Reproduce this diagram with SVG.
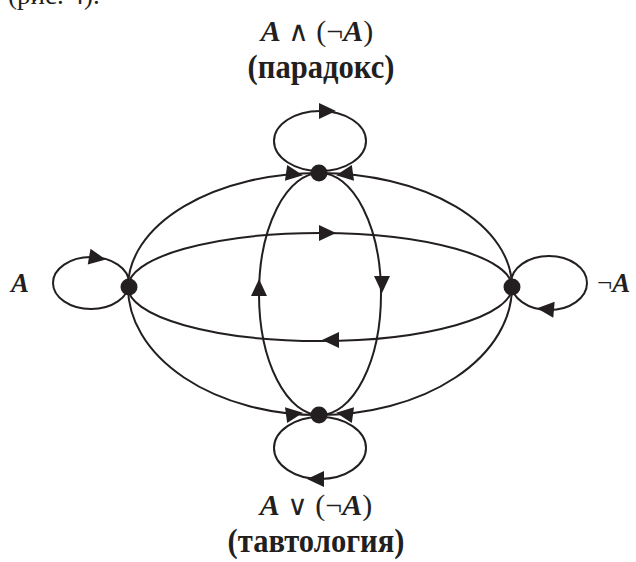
<svg xmlns="http://www.w3.org/2000/svg" xmlns:xlink="http://www.w3.org/1999/xlink" width="636" height="562" viewBox="0 0 636 562">
<style>
.e{fill:none;stroke:#231f20;stroke-width:2}
.a{fill:#231f20}
.n{fill:#231f20}
.t{font-family:"Liberation Serif","Times New Roman",serif;fill:#231f20}
.b{font-weight:bold}
.i{font-style:italic;font-weight:bold}
.op{font-size:28px;font-family:"DejaVu Sans",sans-serif;font-weight:normal}
</style>
<defs>
<path id="arr" d="M9,0 L-8,-8 L-8,8 Z"/>
</defs>
<rect width="636" height="562" fill="#fff"/>
<text class="t" x="8" y="4" font-size="27">(рис. 4).</text>
<g id="connectors">
<ellipse class="e" cx="320" cy="287" rx="192" ry="54"/>
<ellipse class="e" cx="320" cy="294" rx="61" ry="121"/>
<path class="e" d="M128,287 A191,114 0 0 1 319,173"/>
<path class="e" d="M319,173 A193,114 0 0 1 512,287"/>
<path class="e" d="M128,287 A191,128 0 0 0 319,415"/>
<path class="e" d="M319,415 A193,128 0 0 0 512,287"/>
<ellipse class="e" cx="320" cy="141" rx="46" ry="30"/>
<ellipse class="e" cx="320" cy="448" rx="46" ry="31"/>
<ellipse class="e" cx="91" cy="283" rx="38" ry="26"/>
<ellipse class="e" cx="549" cy="283" rx="38" ry="27"/>
<use xlink:href="#arr" class="a" transform="translate(294,174) rotate(8)"/>
<use xlink:href="#arr" class="a" transform="translate(345,174) rotate(172)"/>
<use xlink:href="#arr" class="a" transform="translate(294,414) rotate(-8)"/>
<use xlink:href="#arr" class="a" transform="translate(345,414) rotate(188)"/>
<use xlink:href="#arr" class="a" transform="translate(327,233)"/>
<use xlink:href="#arr" class="a" transform="translate(331,340) rotate(180)"/>
<use xlink:href="#arr" class="a" transform="translate(259,288) rotate(-90)"/>
<use xlink:href="#arr" class="a" transform="translate(382,284) rotate(90)"/>
<use xlink:href="#arr" class="a" transform="translate(327,111)"/>
<use xlink:href="#arr" class="a" transform="translate(97,258) rotate(10)"/>
<use xlink:href="#arr" class="a" transform="translate(546,309) rotate(185)"/>
<use xlink:href="#arr" class="a" transform="translate(316,479) rotate(180)"/>
</g>
<g id="node-top"><circle class="n" cx="319" cy="173" r="8.5"/>
<text class="t" x="317" y="41" font-size="30" text-anchor="middle"><tspan class="i">A</tspan> <tspan class="op">∧</tspan> (¬<tspan class="i">A</tspan>)</text>
<text class="t b" font-size="34" text-anchor="middle" transform="translate(321,78) scale(0.9,1)">(парадокс)</text></g>
<g id="node-bottom"><circle class="n" cx="319" cy="415" r="8.5"/>
<text class="t" x="316" y="515" font-size="30" text-anchor="middle"><tspan class="i">A</tspan> <tspan class="op">∨</tspan> (¬<tspan class="i">A</tspan>)</text>
<text class="t b" font-size="34" text-anchor="middle" transform="translate(316,552) scale(0.9,1)">(тавтология)</text></g>
<g id="node-left"><circle class="n" cx="129" cy="287" r="8.5"/>
<text class="t i" x="11" y="292" font-size="27">A</text></g>
<g id="node-right"><circle class="n" cx="512" cy="287" r="8.5"/>
<text class="t" x="597" y="292" font-size="27">¬<tspan class="i">A</tspan></text></g>
</svg>
